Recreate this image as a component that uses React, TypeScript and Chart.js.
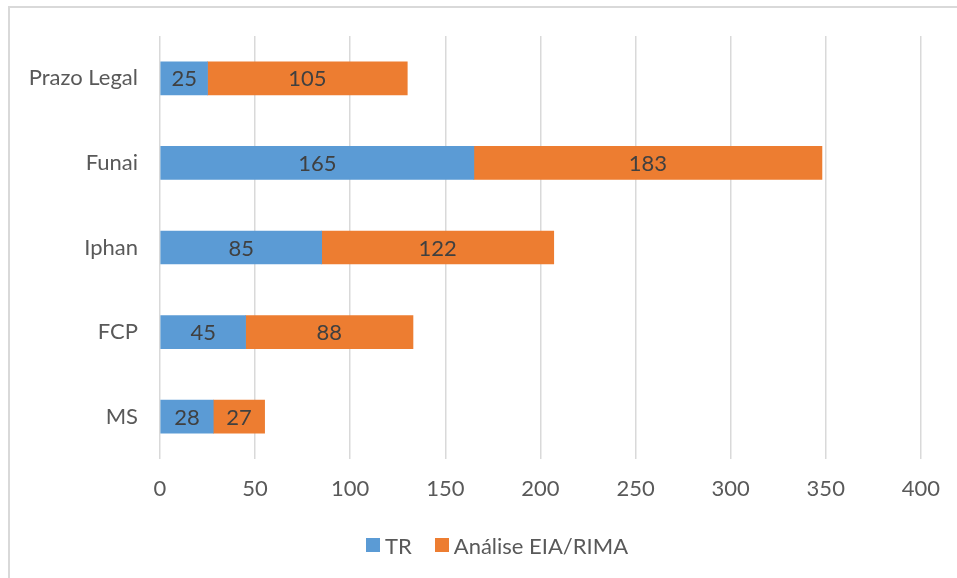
import React, { useEffect, useRef } from "react";
import { Chart, registerables } from "chart.js";

Chart.register(...registerables);

const categories = ["Prazo Legal", "Funai", "Iphan", "FCP", "MS"];
const trValues = [25, 165, 85, 45, 28];
const analiseValues = [105, 183, 122, 88, 27];
const seriesNames = ["TR", "Análise EIA/RIMA"];
const seriesColors = ["#5b9bd5", "#ed7d31"];
const xTicks = [0, 50, 100, 150, 200, 250, 300, 350, 400];

const FONT = "Lato, 'Open Sans', sans-serif";

const dataLabelPlugin = {
  id: "dataLabels",
  afterDatasetsDraw(chart: any) {
    const ctx = chart.ctx;
    ctx.save();
    ctx.font = `22px ${FONT}`;
    ctx.fillStyle = "#404040";
    ctx.textAlign = "center";
    ctx.textBaseline = "middle";
    chart.data.datasets.forEach((ds: any, di: number) => {
      const meta = chart.getDatasetMeta(di);
      meta.data.forEach((el: any, i: number) => {
        const v = ds.data[i];
        const cx = (el.x + el.base) / 2;
        ctx.fillText(String(v), cx, el.y + 1);
      });
    });
    ctx.restore();
  },
};

export default function App() {
  const ref = useRef<HTMLCanvasElement | null>(null);
  useEffect(() => {
    if (!ref.current) return;
    const chart = new Chart(ref.current, {
      type: "bar",
      data: {
        labels: categories,
        datasets: [
          { label: seriesNames[0], data: trValues, backgroundColor: seriesColors[0], borderWidth: 0, barThickness: 33 },
          { label: seriesNames[1], data: analiseValues, backgroundColor: seriesColors[1], borderWidth: 0, barThickness: 33 },
        ],
      },
      options: {
        indexAxis: "y",
        animation: false,
        responsive: false,
        maintainAspectRatio: false,
        layout: { padding: { top: 36, right: 31, bottom: 55, left: 0 } },
        scales: {
          x: {
            stacked: true,
            min: 0,
            max: 400,
            afterBuildTicks: (scale: any) => {
              scale.ticks = xTicks.map((v) => ({ value: v }));
            },
            afterFit: (scale: any) => {
              scale.height = 64;
            },
            grid: { color: "#d9d9d9", lineWidth: 1.5, drawTicks: false },
            border: { display: false },
            ticks: { color: "#595959", font: { family: FONT, size: 22 }, padding: 17 },
          },
          y: {
            stacked: true,
            afterFit: (scale: any) => {
              scale.width = 160;
            },
            grid: { display: false, drawTicks: false },
            border: { display: false },
            ticks: { color: "#595959", font: { family: FONT, size: 22 }, padding: 22 },
          },
        },
        plugins: {
          legend: { display: false },
          tooltip: { enabled: false },
        },
      },
      plugins: [dataLabelPlugin],
    });
    return () => chart.destroy();
  }, []);

  return (
    <div style={{ position: "fixed", left: 0, top: 0, width: 957, height: 578, background: "#fff", overflow: "hidden" }}>
      <div
        style={{
          position: "absolute",
          left: 8,
          top: 6,
          width: 1000,
          height: 1000,
          border: "2px solid #d9d9d9",
          boxSizing: "border-box",
        }}
      />
      <canvas ref={ref} width={957} height={578} style={{ position: "absolute", left: 0, top: 0, width: 957, height: 578 }} />
      <div
        style={{
          position: "absolute",
          left: 366,
          top: 531,
          height: 28,
          display: "flex",
          alignItems: "center",
          fontFamily: FONT,
          fontSize: 22,
          color: "#595959",
          whiteSpace: "nowrap",
        }}
      >
        {seriesNames.map((name, i) => (
          <div key={name} style={{ display: "flex", alignItems: "center", marginRight: i === 0 ? 23 : 0 }}>
            <span style={{ display: "inline-block", width: 14, height: 14, background: seriesColors[i], marginRight: 5 }} />
            <span>{name}</span>
          </div>
        ))}
      </div>
    </div>
  );
}
